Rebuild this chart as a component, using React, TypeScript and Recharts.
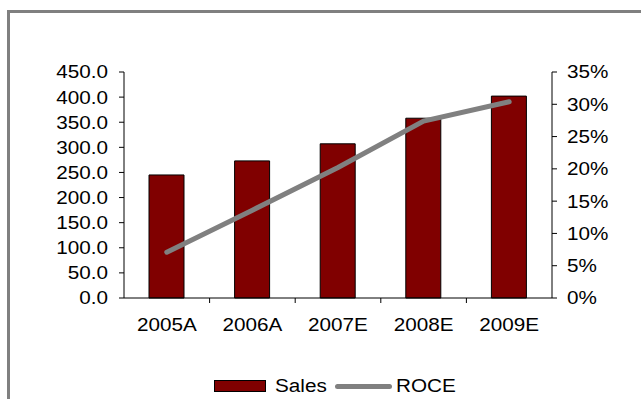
import React from "react";
import { Bar, ComposedChart, Legend, Line, XAxis, YAxis } from "recharts";

const years = ["2005A", "2006A", "2007E", "2008E", "2009E"];
const sales = [245, 273, 307, 358, 402];
const roce = [0.071, 0.136, 0.202, 0.274, 0.304];
const salesTicks = [0, 50, 100, 150, 200, 250, 300, 350, 400, 450];
const roceTicks = [0, 0.05, 0.1, 0.15, 0.2, 0.25, 0.3, 0.35];

const data = years.map((year, i) => ({ year, sales: sales[i], roce: roce[i] }));

const FONT = "'Liberation Sans', Arial, sans-serif";
const STRETCH = 1.15;
const W = 641;
const H = 399;
const margin = { top: 72, right: 29, bottom: 47, left: 64 };
const AXIS_W = 60;
const PLOT_W = W - margin.left - margin.right - AXIS_W * 2;
const BAND = PLOT_W / years.length;

function Label({ x, y, anchor, children }: any) {
  return (
    <text
      transform={`translate(${x},${y}) scale(${STRETCH},1)`}
      textAnchor={anchor}
      dy="0.36em"
      fontFamily={FONT}
      fontSize={18}
      fill="#000"
    >
      {children}
    </text>
  );
}

function YearTick({ x, y, payload, index }: any) {
  const bx = x - BAND / 2;
  return (
    <g>
      {index > 0 && <line x1={bx} y1={y} x2={bx} y2={y + 5} stroke="#000" />}
      <Label x={x} y={y + 27} anchor="middle">
        {payload.value}
      </Label>
    </g>
  );
}

function SalesTick({ x, y, payload }: any) {
  return (
    <Label x={x} y={y} anchor="end">
      {payload.value.toFixed(1)}
    </Label>
  );
}

function RoceTick({ x, y, payload }: any) {
  return (
    <Label x={x} y={y} anchor="start">
      {Math.round(payload.value * 100) + "%"}
    </Label>
  );
}

function LegendBox() {
  const text = { display: "inline-block", transform: `scaleX(${STRETCH})`, transformOrigin: "left center" } as const;
  return (
    <div
      style={{
        height: 24,
        display: "flex",
        alignItems: "center",
        justifyContent: "center",
        paddingLeft: 32,
        fontFamily: FONT,
        fontSize: 18,
        color: "#000",
      }}
    >
      <span style={{ width: 50, height: 10, background: "#800000", border: "1px solid #000" }} />
      <span style={{ ...text, marginLeft: 9, width: 60 }}>Sales</span>
      <span style={{ width: 57, height: 5, background: "#808080", borderRadius: 3 }} />
      <span style={{ ...text, marginLeft: 4, width: 64 }}>ROCE</span>
    </div>
  );
}

export default function App() {
  return (
    <div style={{ position: "absolute", left: 0, top: 0, width: W, height: H, background: "#fff" }}>
      <div
        style={{
          position: "absolute",
          left: 7,
          top: 10,
          width: W - 7,
          height: H - 10,
          borderTop: "3px solid #808080",
          borderLeft: "3px solid #808080",
          boxSizing: "border-box",
        }}
      />
      <div style={{ position: "absolute", left: 0, top: 0 }}>
        <ComposedChart width={W} height={H} data={data} margin={margin}>
          <XAxis
            dataKey="year"
            tickLine={false}
            tickSize={0}
            tickMargin={0}
            height={30}
            axisLine={{ stroke: "#000" }}
            tick={<YearTick />}
            interval={0}
          />
          <YAxis
            yAxisId="left"
            width={AXIS_W}
            domain={[0, 450]}
            ticks={salesTicks}
            tickSize={5}
            tickMargin={11}
            tickLine={{ stroke: "#000" }}
            axisLine={{ stroke: "#000" }}
            tick={<SalesTick />}
            interval={0}
          />
          <YAxis
            yAxisId="right"
            orientation="right"
            width={AXIS_W}
            domain={[0, 0.35]}
            ticks={roceTicks}
            tickSize={5}
            tickMargin={10}
            tickLine={{ stroke: "#000" }}
            axisLine={{ stroke: "#000" }}
            tick={<RoceTick />}
            interval={0}
          />
          <Legend verticalAlign="bottom" content={<LegendBox />} wrapperStyle={{ top: 374, left: 0, width: W }} />
          <Bar
            yAxisId="left"
            dataKey="sales"
            name="Sales"
            fill="#800000"
            stroke="#000"
            strokeWidth={1}
            barSize={35}
            isAnimationActive={false}
          />
          <Line
            yAxisId="right"
            dataKey="roce"
            name="ROCE"
            type="linear"
            stroke="#808080"
            strokeWidth={5}
            strokeLinecap="round"
            dot={false}
            activeDot={false}
            isAnimationActive={false}
          />
        </ComposedChart>
      </div>
    </div>
  );
}
